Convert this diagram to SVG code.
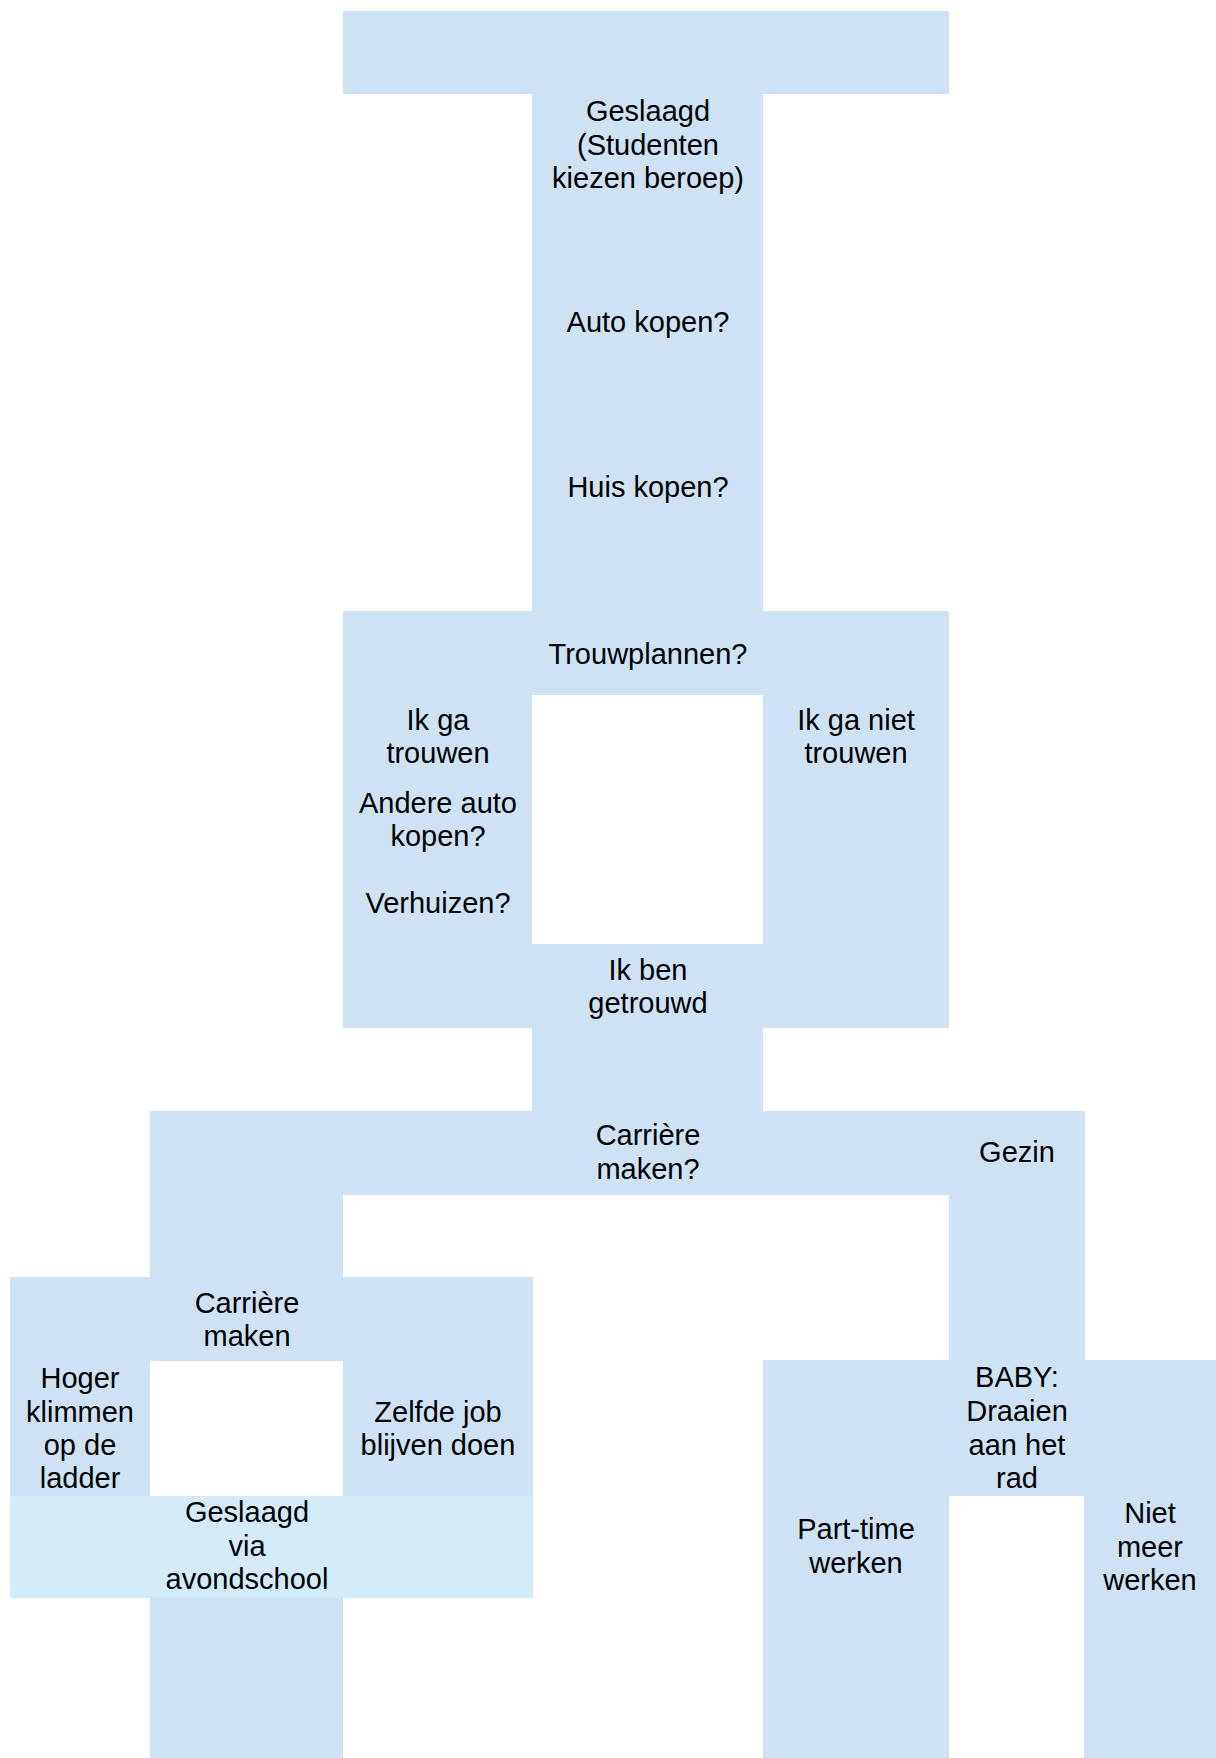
<svg xmlns="http://www.w3.org/2000/svg" width="1216" height="1758" viewBox="0 0 1216 1758">
<style>
.b{fill:#cfe2f3}
.c{fill:#d2ebf7}
text{font-family:"Liberation Sans",Arial,sans-serif;font-size:29px;fill:#000;text-anchor:middle}
</style>
<rect width="1216" height="1758" fill="#ffffff"/>
<g id="connectors"></g>
<g id="top">
<rect class="b" x="343" y="11" width="606" height="83"/>
</g>
<g id="geslaagd">
<rect class="b" x="532" y="94" width="231" height="517"/>
<text x="648" y="121">Geslaagd</text>
<text x="648" y="154.5">(Studenten</text>
<text x="648" y="188">kiezen beroep)</text>
<text x="648" y="332">Auto kopen?</text>
<text x="648" y="497">Huis kopen?</text>
</g>
<g id="trouwplannen">
<path class="b" fill-rule="evenodd" d="M343 611H949V1028H343Z M532 695V944H763V695Z"/>
<text x="648" y="664">Trouwplannen?</text>
<text x="438" y="730">Ik ga</text>
<text x="438" y="763">trouwen</text>
<text x="438" y="813">Andere auto</text>
<text x="438" y="846">kopen?</text>
<text x="438" y="913">Verhuizen?</text>
<text x="856" y="730">Ik ga niet</text>
<text x="856" y="763">trouwen</text>
<text x="648" y="980">Ik ben</text>
<text x="648" y="1013">getrouwd</text>
</g>
<g id="link1">
<rect class="b" x="532" y="1028" width="231" height="83"/>
</g>
<g id="carriere">
<rect class="b" x="150" y="1111" width="935" height="84"/>
<text x="648" y="1145">Carrière</text>
<text x="648" y="1179">maken?</text>
<text x="1017" y="1162">Gezin</text>
</g>
<g id="link2">
<rect class="b" x="150" y="1195" width="193" height="82"/>
</g>
<g id="gezin-link">
<rect class="b" x="949" y="1195" width="136" height="165"/>
</g>
<g id="carriere-maken">
<path class="b" fill-rule="evenodd" d="M10 1277H533V1496H10Z M150 1361V1496H343V1361Z"/>
<text x="247" y="1313">Carrière</text>
<text x="247" y="1346">maken</text>
<text x="80" y="1388">Hoger</text>
<text x="80" y="1421.5">klimmen</text>
<text x="80" y="1455">op de</text>
<text x="80" y="1488">ladder</text>
<text x="438" y="1422">Zelfde job</text>
<text x="438" y="1455">blijven doen</text>
</g>
<g id="avondschool">
<rect class="c" x="10" y="1496" width="523" height="102"/>
<text x="247" y="1522">Geslaagd</text>
<text x="247" y="1556">via</text>
<text x="247" y="1589">avondschool</text>
</g>
<g id="link3">
<rect class="b" x="150" y="1598" width="193" height="160"/>
</g>
<g id="baby">
<path class="b" fill-rule="evenodd" d="M763 1360H1216V1758H763Z M949 1496V1758H1084V1496Z"/>
<text x="1017" y="1387">BABY:</text>
<text x="1017" y="1421">Draaien</text>
<text x="1017" y="1455">aan het</text>
<text x="1017" y="1488">rad</text>
<text x="856" y="1539">Part-time</text>
<text x="856" y="1573">werken</text>
<text x="1150" y="1523">Niet</text>
<text x="1150" y="1557">meer</text>
<text x="1150" y="1590">werken</text>
</g>
</svg>
